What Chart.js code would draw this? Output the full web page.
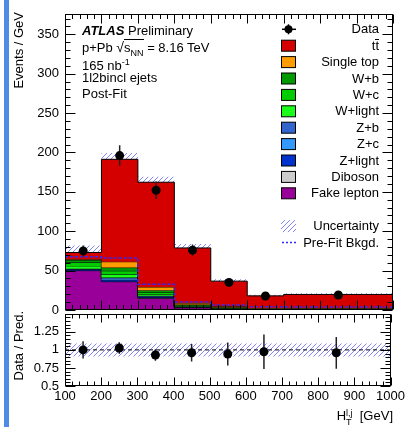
<!DOCTYPE html>
<html><head><meta charset="utf-8">
<script src="https://cdn.jsdelivr.net/npm/chart.js@4.4.1/dist/chart.umd.min.js"></script>
<style>
html,body{margin:0;padding:0;background:#fff;}
#wrap{position:relative;width:408px;height:427px;overflow:hidden;font-family:"Liberation Sans",Arial,Helvetica,sans-serif;color:#000;}
canvas{position:absolute;left:0;}
#stripe{position:absolute;left:4px;top:0;width:5px;height:427px;background:#4f8ae6;}
.t{position:absolute;font-size:13px;line-height:16px;white-space:nowrap;}
.vt{position:absolute;font-size:13px;line-height:16px;white-space:nowrap;writing-mode:vertical-rl;transform:rotate(180deg);}
.ss{display:inline-block;vertical-align:-5px;font-size:9px;line-height:9px;text-align:left;}
.ss span{display:block;}
.bar{display:inline-block;border-top:1px solid #000;line-height:11px;padding-top:0px;}
svg{position:absolute;left:0;top:0;}
</style></head>
<body><div id="wrap">
<div id="stripe"></div>
<canvas id="main" width="408" height="330" style="top:0px"></canvas>
<canvas id="ratio" width="408" height="127" style="top:300px"></canvas>
<svg id="leg" width="408" height="427"></svg>
<div class="vt" style="left:11px;top:12px;">Events / GeV</div>
<div class="vt" style="left:11px;top:311px;">Data / Pred.</div>
<div class="t" style="left:82px;top:23px;"><b><i>ATLAS</i></b> Preliminary</div>
<div class="t" style="left:82px;top:38.5px;">p+Pb <span style="font-size:14px">√</span><span style="border-top:1px solid #000;">s<sub style="font-size:9px">NN</sub></span> = 8.16 TeV</div>
<div class="t" style="left:82px;top:54px;">165 nb<sup style="font-size:9px">-1</sup></div>
<div class="t" style="left:82px;top:70px;">1l2bincl ejets</div>
<div class="t" style="left:82px;top:85.5px;">Post-Fit</div>
<div class="t" style="right:15px;top:408px;">H<span class="ss"><span>l,j</span><span>T</span></span>&nbsp;&nbsp;[GeV]</div>
<div id="legtext"></div>
</div>
<script>
// ---------------- data ----------------
const binEdges   = [100, 200, 300, 400, 500, 600, 700, 1000];
const binCenters = [150, 250, 350, 450, 550, 650, 850];

// stacked components (Events / GeV), bottom to top
const fakeLepton = [50.0, 36.0, 15.0, 3.0, 1.5, 0.8, 0.7];
const diboson    = [0.3, 0.3, 0.2, 0.1, 0.05, 0.05, 0.05];
const zLight     = [1.2, 2.0, 1.2, 0.4, 0.2, 0.1, 0.1];
const zC         = [0.5, 1.5, 0.8, 0.2, 0.1, 0.05, 0.05];
const zB         = [0.5, 1.5, 1.0, 0.3, 0.1, 0.05, 0.05];
const wLight     = [3.5, 4.0, 2.0, 0.8, 0.4, 0.2, 0.2];
const wC         = [4.5, 4.5, 2.5, 1.0, 0.5, 0.3, 0.3];
const wB         = [3.0, 4.0, 2.5, 1.2, 0.6, 0.3, 0.3];
const singleTop  = [1.0, 7.5, 4.0, 1.8, 1.2, 0.8, 0.8];
const ttbar      = [8.5, 130.0, 133.0, 70.0, 32.0, 15.3, 17.2];

const dataValues = [75, 196, 152, 76, 35, 17.7, 19];
const dataErr    = [7, 13, 11, 7, 5, 4, 4];
const uncMain    = [9, 8, 7, 5, 2.5, 1.5, 1.5];
const preFitBkgd = [67.5, 66, 32.6, 10, 6.3, 4, 3.8];

const ratioValues = [1.0, 1.026, 0.93, 0.96, 0.943, 0.974, 0.96];
const ratioErr    = [0.12, 0.08, 0.08, 0.12, 0.16, 0.24, 0.22];
const ratioUnc    = [0.09, 0.09, 0.09, 0.09, 0.09, 0.09, 0.09];
const ratioRef    = [1, 1];

const xTickLabels     = [100, 200, 300, 400, 500, 600, 700, 800, 900, 1000];
const yTickLabels     = [0, 50, 100, 150, 200, 250, 300, 350];
const ratioTickLabels = [0.5, 0.75, 1, 1.25];

// ---------------- styles ----------------
const FONT = '"Liberation Sans", Arial, Helvetica, sans-serif';
Chart.defaults.font.family = FONT;
Chart.defaults.font.size = 13;
Chart.defaults.color = '#000';

const components = [
  {name:'Fake lepton', vals:fakeLepton, color:'#990099'},
  {name:'Diboson',     vals:diboson,    color:'#cccccc'},
  {name:'Z+light',     vals:zLight,     color:'#0033cc'},
  {name:'Z+c',         vals:zC,         color:'#3399ff'},
  {name:'Z+b',         vals:zB,         color:'#3366cc'},
  {name:'W+light',     vals:wLight,     color:'#1aff1a'},
  {name:'W+c',         vals:wC,         color:'#00cc00'},
  {name:'W+b',         vals:wB,         color:'#009900'},
  {name:'Single top',  vals:singleTop,  color:'#ff9c00'},
  {name:'ttbar',       vals:ttbar,      color:'#d40000'}
];

function hatch(){
  const c = document.createElement('canvas'); c.width = 5; c.height = 5;
  const g = c.getContext('2d');
  g.strokeStyle = 'rgba(110,110,255,0.85)'; g.lineWidth = 1;
  g.beginPath();
  g.moveTo(0,5); g.lineTo(5,0);
  g.moveTo(-1,1); g.lineTo(1,-1);
  g.moveTo(4,6); g.lineTo(6,4);
  g.stroke();
  return g.createPattern(c, 'repeat');
}
const hatchPattern = hatch();

function steps(vals){
  return binEdges.map((e,i)=>({x:e, y: vals[Math.min(i, vals.length-1)]}));
}

// cumulative stack
const cumulative = [];
let running = binCenters.map(()=>0);
components.forEach(c=>{
  running = running.map((v,i)=>v + c.vals[i]);
  cumulative.push(running.slice());
});
const total = running;

const mainDatasets = [];
components.forEach((c,k)=>{
  mainDatasets.push({
    label:c.name, data:steps(cumulative[k]), stepped:true,
    borderColor:'#000', borderWidth:1, backgroundColor:c.color,
    fill: k===0 ? 'origin' : '-1', pointRadius:0, order: 11-k
  });
});
const idxUncLow = mainDatasets.length;
mainDatasets.push({label:'uncLow', data:steps(total.map((v,i)=>v-uncMain[i])), stepped:true,
  borderWidth:0, borderColor:'rgba(0,0,0,0)', pointRadius:0, fill:false, order:14});
mainDatasets.push({label:'Uncertainty', data:steps(total.map((v,i)=>v+uncMain[i])), stepped:true,
  borderWidth:0, borderColor:'rgba(0,0,0,0)', pointRadius:0, fill:idxUncLow, backgroundColor:hatchPattern, order:13});
mainDatasets.push({label:'Pre-Fit Bkgd.', data:steps(preFitBkgd), stepped:true,
  borderColor:'#2a2aff', borderWidth:1.5, borderDash:[3,2], pointRadius:0, fill:false, order:1});
const idxData = mainDatasets.length;
mainDatasets.push({label:'Data', data:binCenters.map((x,i)=>({x, y:dataValues[i]})), showLine:false,
  pointRadius:4.5, pointBackgroundColor:'#000', pointBorderWidth:0, order:0});

// ---------------- plugins ----------------
function makeFrame(id, cfg){
  return {
    id,
    afterDraw(chart){
      const {ctx, chartArea:a, scales:{x, y}} = chart;
      const L = Math.round(a.left)+0.5, R = Math.round(a.right)-0.5;
      const T = Math.round(a.top)+0.5, B = Math.round(a.bottom)-0.5;
      ctx.save();
      ctx.strokeStyle = '#000'; ctx.lineWidth = 1;
      ctx.beginPath();
      const nx = Math.round(cfg.xMajor/cfg.xMinor);
      for (let k=0;;k++){
        const v = cfg.xMin + k*cfg.xMinor; if (v > cfg.xMax + 1e-9) break;
        const px = Math.round(x.getPixelForValue(v)) + 0.5;
        const len = (k % nx === 0) ? cfg.xMajLen : cfg.xMinLen;
        ctx.moveTo(px, B); ctx.lineTo(px, B-len);
        ctx.moveTo(px, T); ctx.lineTo(px, T+len);
      }
      const ny = Math.round(cfg.yMajor/cfg.yMinor);
      for (let k=0;;k++){
        const v = cfg.yMin + k*cfg.yMinor; if (v > cfg.yMax + 1e-9) break;
        const py = Math.round(y.getPixelForValue(v)) + 0.5;
        const len = (k % ny === 0) ? cfg.yMajLen : cfg.yMinLen;
        ctx.moveTo(L, py); ctx.lineTo(L+len, py);
        ctx.moveTo(R, py); ctx.lineTo(R-len, py);
      }
      ctx.stroke();
      ctx.strokeRect(L, T, R-L, B-T);
      ctx.restore();
    }
  };
}
function makeErrBars(id, index, centers, values, errs){
  return {
    id,
    beforeDatasetDraw(chart, args){
      if (args.index !== index) return;
      const {ctx, scales:{x, y}} = chart;
      ctx.save(); ctx.strokeStyle = '#222'; ctx.lineWidth = 1.5;
      ctx.beginPath();
      centers.forEach((c,i)=>{
        const px = x.getPixelForValue(c);
        ctx.moveTo(px, y.getPixelForValue(values[i]-errs[i]));
        ctx.lineTo(px, y.getPixelForValue(values[i]+errs[i]));
      });
      ctx.stroke(); ctx.restore();
    }
  };
}

const commonY = {
  grid:{display:false, drawTicks:false}, border:{display:false},
  ticks:{padding:6, color:'#000', font:{size:13, family:FONT}},
  afterFit:s=>{ s.width = 65; }
};

new Chart(document.getElementById('main'), {
  type:'line',
  data:{datasets:mainDatasets},
  options:{
    responsive:false, animation:false, devicePixelRatio:1, events:[],
    layout:{padding:{left:0, right:15, top:12, bottom:20}},
    plugins:{legend:{display:false}, tooltip:{enabled:false}},
    scales:{
      x:{type:'linear', min:100, max:1000, display:false},
      y:Object.assign({}, commonY, {type:'linear', min:0, max:376,
        afterBuildTicks:s=>{ s.ticks = yTickLabels.map(v=>({value:v})); },
        ticks:Object.assign({}, commonY.ticks, {callback:v=>String(v)})})
    }
  },
  plugins:[
    makeFrame('frameMain', {xMin:100, xMax:1000, xMinor:20, xMajor:100, xMajLen:9, xMinLen:4.5,
                            yMin:0, yMax:376, yMinor:10, yMajor:50, yMajLen:10, yMinLen:5}),
    makeErrBars('errMain', idxData, binCenters, dataValues, dataErr)
  ]
});

const ratioDatasets = [
  {label:'rLow', data:steps(ratioUnc.map(u=>1-u)), stepped:true, borderWidth:0, borderColor:'rgba(0,0,0,0)', pointRadius:0, fill:false, order:4},
  {label:'rHigh', data:steps(ratioUnc.map(u=>1+u)), stepped:true, borderWidth:0, borderColor:'rgba(0,0,0,0)', pointRadius:0, fill:0, backgroundColor:hatchPattern, order:3},
  {label:'ref', data:[{x:binEdges[0], y:ratioRef[0]}, {x:binEdges[binEdges.length-1], y:ratioRef[1]}], borderColor:'#000', borderWidth:1, borderDash:[4,3], pointRadius:0, fill:false, order:2},
  {label:'ratio', data:binCenters.map((x,i)=>({x, y:ratioValues[i]})), showLine:false, pointRadius:4.5, pointBackgroundColor:'#000', pointBorderWidth:0, order:0}
];

new Chart(document.getElementById('ratio'), {
  type:'line',
  data:{datasets:ratioDatasets},
  options:{
    responsive:false, animation:false, devicePixelRatio:1, events:[],
    layout:{padding:{left:0, right:15, top:10, bottom:0}},
    plugins:{legend:{display:false}, tooltip:{enabled:false}},
    scales:{
      x:{type:'linear', min:100, max:1000,
        grid:{display:false, drawTicks:false}, border:{display:false},
        afterBuildTicks:s=>{ s.ticks = xTickLabels.map(v=>({value:v})); },
        afterFit:s=>{ s.height = 41; },
        ticks:{padding:3, autoSkip:false, maxRotation:0, minRotation:0, color:'#000', font:{size:13, family:FONT}, callback:v=>String(v)}},
      y:Object.assign({}, commonY, {type:'linear', min:0.5, max:1.5,
        afterBuildTicks:s=>{ s.ticks = ratioTickLabels.map(v=>({value:v})); },
        ticks:Object.assign({}, commonY.ticks, {callback:v=>String(v)})})
    }
  },
  plugins:[
    makeFrame('frameRatio', {xMin:100, xMax:1000, xMinor:20, xMajor:100, xMajLen:8, xMinLen:4,
                             yMin:0.5, yMax:1.5, yMinor:0.05, yMajor:0.25, yMajLen:10, yMinLen:5}),
    makeErrBars('errRatio', 3, binCenters, ratioValues, ratioErr)
  ]
});

// ---------------- legend ----------------
const legendItems = [
  {label:'Data', kind:'data'},
  {label:'t<span class="bar">t</span>', kind:'box', color:'#d40000'},
  {label:'Single top', kind:'box', color:'#ff9c00'},
  {label:'W+b', kind:'box', color:'#009900'},
  {label:'W+c', kind:'box', color:'#00cc00'},
  {label:'W+light', kind:'box', color:'#1aff1a'},
  {label:'Z+b', kind:'box', color:'#3366cc'},
  {label:'Z+c', kind:'box', color:'#3399ff'},
  {label:'Z+light', kind:'box', color:'#0033cc'},
  {label:'Diboson', kind:'box', color:'#cccccc'},
  {label:'Fake lepton', kind:'box', color:'#990099'},
  null,
  {label:'Uncertainty', kind:'hatch'},
  {label:'Pre-Fit Bkgd.', kind:'dash'}
];
const svgNS = 'http://www.w3.org/2000/svg';
const svg = document.getElementById('leg');
svg.innerHTML = '<defs><pattern id="hp" width="5" height="5" patternUnits="userSpaceOnUse">' +
  '<path d="M0,5 L5,0 M-1,1 L1,-1 M4,6 L6,4" stroke="rgba(110,110,255,0.85)" stroke-width="1"/></pattern></defs>';
const legText = document.getElementById('legtext');
function el(tag, attrs){ const e = document.createElementNS(svgNS, tag); for (const k in attrs) e.setAttribute(k, attrs[k]); svg.appendChild(e); return e; }
legendItems.forEach((it, i)=>{
  if (!it) return;
  const yc = 29.3 + i*16.4;
  if (it.kind === 'box') {
    el('rect', {x:281.5, y:yc-5.5, width:14, height:11, fill:it.color, stroke:'#000', 'stroke-width':1});
  } else if (it.kind === 'hatch') {
    el('rect', {x:281, y:yc-6, width:15, height:12, fill:'url(#hp)'});
  } else if (it.kind === 'dash') {
    el('line', {x1:282, y1:yc, x2:296, y2:yc, stroke:'#2a2aff', 'stroke-width':1.5, 'stroke-dasharray':'2,2'});
  } else if (it.kind === 'data') {
    el('line', {x1:282, y1:yc, x2:296, y2:yc, stroke:'#000', 'stroke-width':1.5});
    el('line', {x1:288.5, y1:yc-5, x2:288.5, y2:yc+5, stroke:'#000', 'stroke-width':1.5});
    el('circle', {cx:288.5, cy:yc, r:4, fill:'#000'});
  }
  const d = document.createElement('div');
  d.className = 't';
  d.style.right = '29px';
  d.style.top = (yc - 8) + 'px';
  d.innerHTML = it.label;
  legText.appendChild(d);
});
</script>
</body></html>
